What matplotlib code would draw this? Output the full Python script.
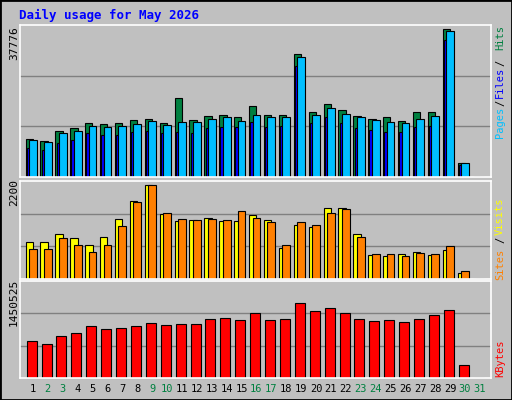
import numpy as np
import matplotlib.pyplot as plt
from matplotlib.patches import Rectangle

days = np.arange(1, 32)
weekend = [2, 3, 9, 10, 16, 17, 23, 24, 30, 31]

# values (day 31 has no data)
hits   = [9550, 9050, 11540, 12290, 13540, 13290, 13540, 14290, 14530, 13540, 19520, 14290, 15280, 15530, 15030,
          17530, 15530, 15530, 30480, 16030, 18020, 16530, 15280, 14530, 15030, 14040, 16030, 16030, 36720, 3490, 0]
files  = [9300, 8800, 11040, 11540, 12790, 12540, 12790, 13290, 14040, 13040, 13790, 13790, 14530, 15030, 14040,
          15530, 14790, 14790, 29730, 15530, 17030, 15780, 14790, 14290, 13790, 13540, 14530, 15280, 36220, 3490, 0]
pages  = [7310, 6810, 8550, 9300, 11040, 10540, 10540, 11290, 11540, 11040, 11290, 11040, 12290, 12540, 12540,
          13790, 12540, 12790, 27490, 13540, 14790, 13540, 12290, 11790, 11290, 11290, 12540, 12790, 33980, 3070, 0]
visits = [840, 830, 1020, 910, 770, 950, 1340, 1750, 2120, 1460, 1300, 1320, 1360, 1300, 1300,
          1440, 1320, 700, 1210, 1160, 1600, 1600, 1000, 540, 510, 560, 600, 540, 650, 140, 0]
sites  = [680, 680, 910, 770, 600, 770, 1180, 1730, 2120, 1480, 1340, 1320, 1340, 1320, 1520,
          1380, 1290, 770, 1270, 1210, 1480, 1570, 950, 560, 560, 510, 580, 560, 740, 170, 0]
kbytes = [556000, 505000, 628000, 669000, 771000, 740000, 750000, 781000, 822000, 792000, 802000, 802000, 883000, 894000, 873000,
          975000, 873000, 883000, 1118000, 996000, 1047000, 975000, 883000, 853000, 863000, 843000, 883000, 945000, 1016000, 189000, 0]

W, H = 512.0, 400.0
fig = plt.figure(figsize=(5.12, 4.0), dpi=100, facecolor='#C0C0C0')
fig.patches.append(Rectangle((0, 0), 1, 1, transform=fig.transFigure, fill=False,
                             edgecolor='black', linewidth=2))

def px_axes(x0, y0, x1, y1):
    ax = fig.add_axes([x0 / W, 1 - y1 / H, (x1 - x0) / W, (y1 - y0) / H])
    ax.set_facecolor('#C0C0C0')
    for s in ax.spines.values():
        s.set_color('white')
        s.set_linewidth(1.2)
    ax.set_xlim(0.13, 31.74)
    ax.set_xticks([])
    ax.set_yticks([])
    return ax

def grid(ax, top):
    for f in (1 / 3., 2 / 3.):
        ax.axhline(top * f, color='#808080', linewidth=1, zorder=0)
    ax.set_ylim(0, top)

kw = dict(edgecolor='black', linewidth=0.8)

ax1 = px_axes(20, 25, 491, 177)
grid(ax1, 37776)
ax1.bar(days - 0.25, hits, 0.49, color='#008040', **kw)
ax1.bar(days - 0.31, pages, 0.22, color='#0000FF', **kw)
ax1.bar(days + 0.0, files, 0.52, color='#00BFFF', **kw)

ax2 = px_axes(20, 181, 491, 279)
grid(ax2, 2200)
ax2.bar(days - 0.25, visits, 0.5, color='#FFFF00', **kw)
ax2.bar(days + 0.0, sites, 0.52, color='#FF8000', **kw)

ax3 = px_axes(20, 281, 491, 378)
grid(ax3, 1450525)
ax3.bar(days - 0.09, kbytes, 0.67, color='#FF0000', **kw)

mono = 'DejaVu Sans Mono'
fig.text(19 / W, 1 - 15 / H, 'Daily usage for May 2026', color='#0000FF', family=mono,
         fontweight='bold', fontsize=9, va='center')

for txt, y in [('37776', 43), ('2200', 193), ('1450525', 302)]:
    fig.text(14 / W, 1 - y / H, txt, rotation=90, family=mono, fontsize=8, ha='center', va='center')

side = [('Pages', '#00BFFF', 122), ('/', 'black', 103), ('Files', '#0000FF', 82), ('/', 'black', 63),
        ('Hits', '#008040', 38), ('Visits', '#FFFF00', 216), ('/', 'black', 240), ('Sites', '#FF8000', 264),
        ('KBytes', '#FF0000', 358)]
for txt, c, y in side:
    fig.text(500 / W, 1 - y / H, txt, rotation=90, color=c, family=mono, fontsize=7.5,
             ha='center', va='center')

for d in days:
    x = 20 + (d - 0.13) / (31.74 - 0.13) * 471
    fig.text(x / W, 1 - 389 / H, str(d), color='#008040' if d in weekend else 'black',
             family=mono, fontsize=7.5, ha='center', va='center')

fig.savefig('out.png', dpi=100, facecolor=fig.get_facecolor())
